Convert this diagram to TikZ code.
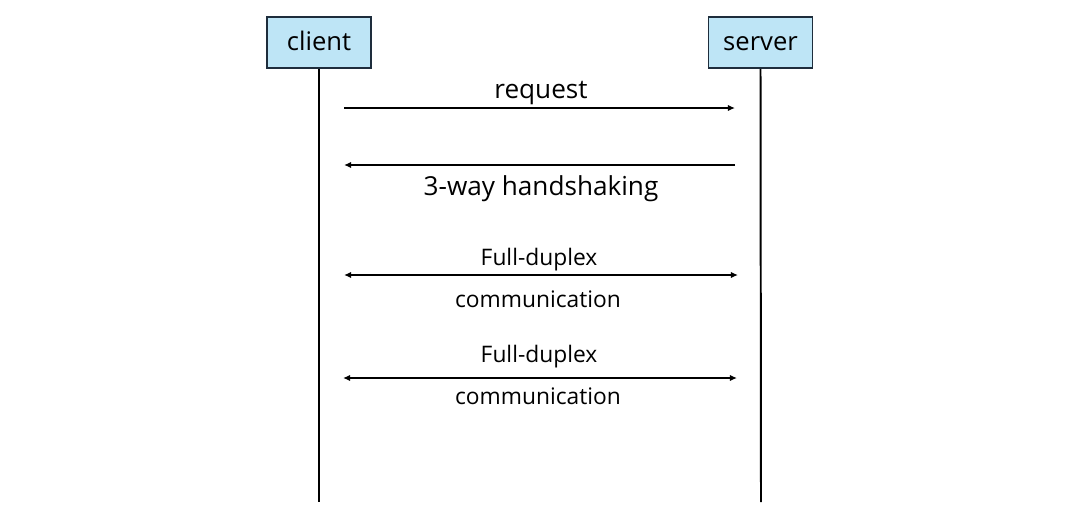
\documentclass[tikz,border=0pt]{standalone}
\usepackage{fontspec}
\setmainfont{Open Sans}
\usetikzlibrary{arrows.meta}
\definecolor{boxfill}{RGB}{190,229,246}
\definecolor{boxline}{RGB}{30,45,60}
\tikzset{
  actor/.style={draw=boxline, line width=1.4pt, fill=boxfill, minimum width=104*0.025cm, minimum height=51*0.025cm, inner sep=0pt, text height=1.34em, text depth=0.14em, font=\fontsize{18.2}{21}\selectfont},
  life/.style={line width=1.4pt},
  msg/.style={line width=1.3pt, -{Latex[length=5pt,width=4.5pt]}},
  dmsg/.style={line width=1.3pt, {Latex[length=5pt,width=4.5pt]}-{Latex[length=5pt,width=4.5pt]}},
  biglabel/.style={font=\fontsize{18.6}{21}\selectfont, inner sep=0pt, text height=1.34em, text depth=0.14em},
  smalllabel/.style={font=\fontsize{16.2}{19}\selectfont, inner sep=0pt, text height=1.34em, text depth=0.14em}
}
\begin{document}
\begin{tikzpicture}[x=0.025cm,y=-0.025cm]
\useasboundingbox (0,0) rectangle (1080,520);
\node[actor] (client) at (319,42.5) {client};
\node[actor] (server) at (760.5,42.5) {server};
\coordinate (cend) at (319,502);
\coordinate (send) at (761,502);
\draw[life] (client.south) -- (cend);
\draw[life] (server.south) -- (send);
% request
\coordinate (r1) at (344,108); \coordinate (r2) at (735,108);
\draw[msg] (r1) -- (r2);
\node[biglabel] (req) at (541,90) {request};
% handshake
\coordinate (h1) at (735,165); \coordinate (h2) at (344,165);
\draw[msg] (h1) -- (h2);
\node[biglabel] (hs) at (541,187) {3-way handshaking};
% full duplex 1
\coordinate (f1) at (344,275); \coordinate (f2) at (738,275);
\draw[dmsg] (f1) -- (f2);
\node[smalllabel] (fd1) at (539,257) {Full-duplex};
\node[smalllabel] (cm1) at (538,299) {communication};
% full duplex 2
\coordinate (g1) at (343,378); \coordinate (g2) at (737,378);
\draw[dmsg] (g1) -- (g2);
\node[smalllabel] (fd2) at (539,354) {Full-duplex};
\node[smalllabel] (cm2) at (538,396) {communication};
\end{tikzpicture}
\end{document}
